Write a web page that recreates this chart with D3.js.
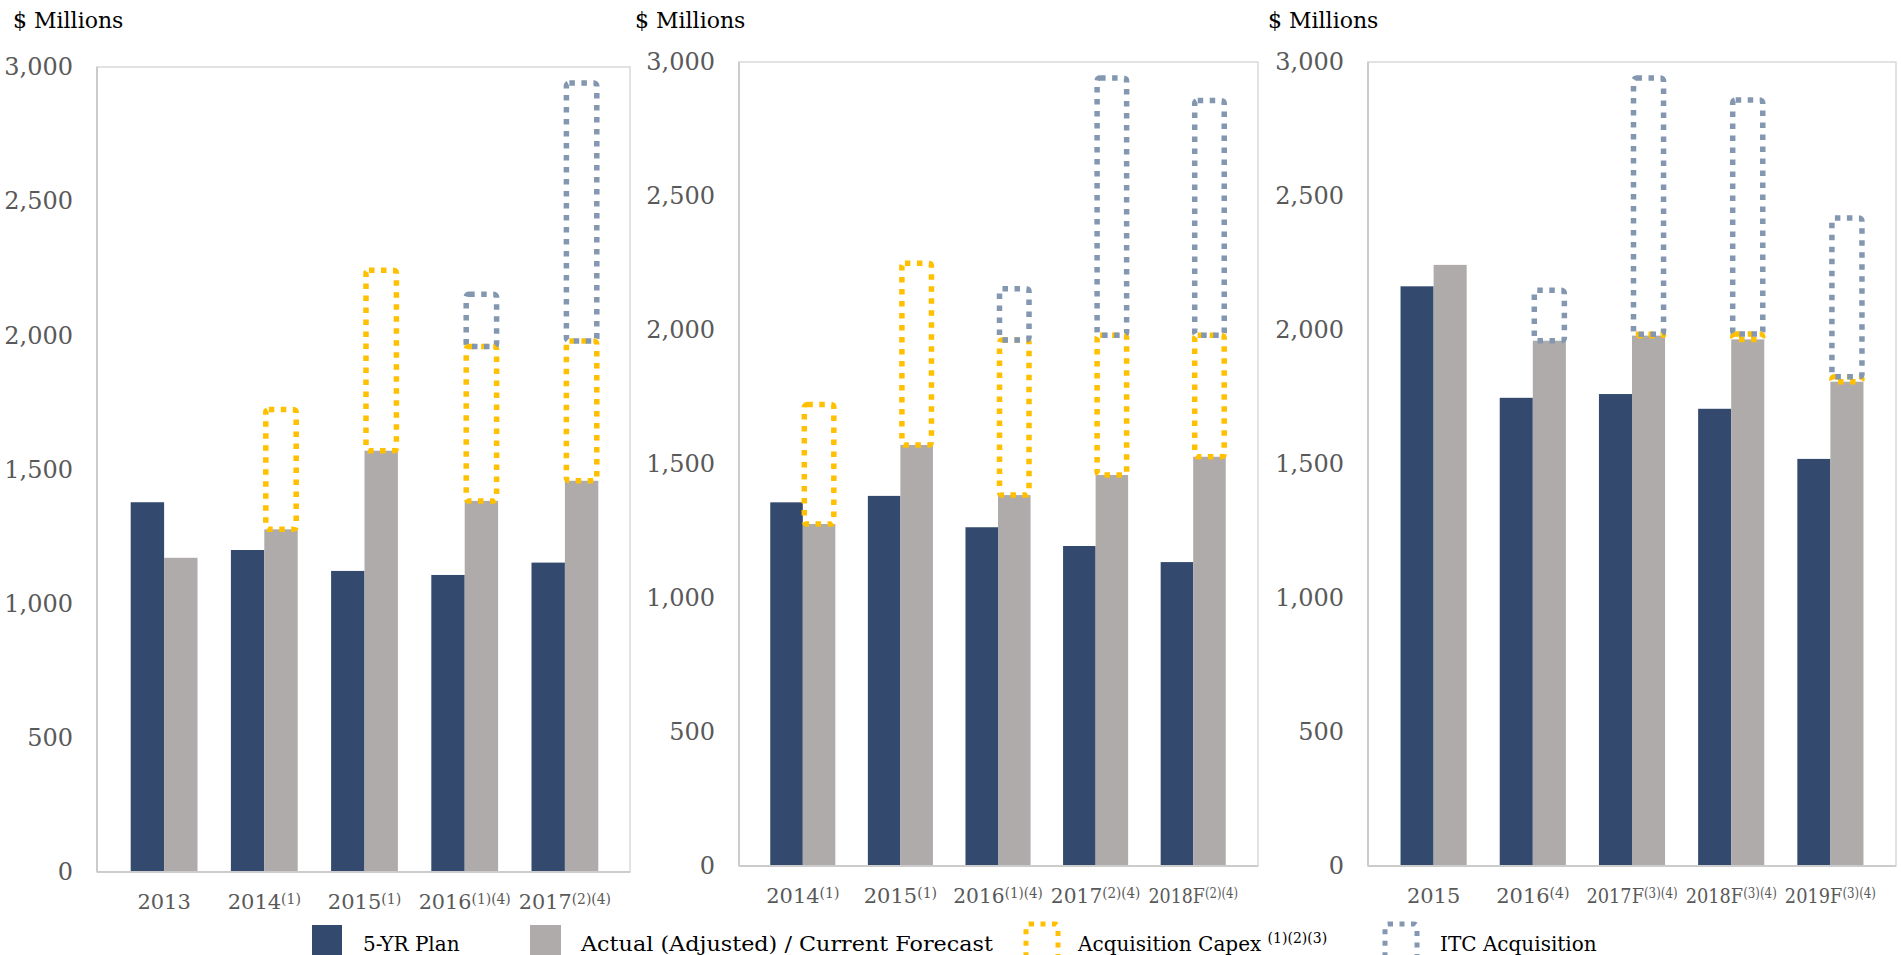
<!DOCTYPE html>
<html>
<head>
<meta charset="utf-8">
<script src="https://cdn.jsdelivr.net/npm/d3@7"></script>
<style>
html, body { margin: 0; padding: 0; background: #fff; overflow: hidden; }
svg { display: block; }
text { font-family: "DejaVu Serif", serif; }
</style>
</head>
<body>
<div id="chart"></div>
<script>
// Capex data, $ millions
const cats1 = ["2013", "2014(1)", "2015(1)", "2016(1)(4)", "2017(2)(4)"];
const plan1 = [1378, 1200, 1122, 1107, 1153];
const actual1 = [1171, 1277, 1570, 1383, 1458];
const acq1 = [0, 447, 673, 575, 521];
const itc1 = [0, 0, 0, 195, 961];

const cats2 = ["2014(1)", "2015(1)", "2016(1)(4)", "2017(2)(4)", "2018F(2)(4)"];
const plan2 = [1357, 1381, 1264, 1194, 1134];
const actual2 = [1276, 1571, 1384, 1459, 1527];
const acq2 = [446, 678, 579, 521, 453];
const itc2 = [0, 0, 191, 960, 876];

const cats3 = ["2015", "2016(4)", "2017F(3)(4)", "2018F(3)(4)", "2019F(3)(4)"];
const plan3 = [2163, 1747, 1761, 1706, 1519];
const actual3 = [2243, 1960, 1979, 1965, 1807];
const acq3 = [0, 0, 5, 20, 19];
const itc3 = [0, 188, 956, 873, 592];

const yTicks = [0, 500, 1000, 1500, 2000, 2500, 3000];
const yMax = 3000;
const unitLabel = "$ Millions";

const legendItems = ["5-YR Plan", "Actual (Adjusted) / Current Forecast", "Acquisition Capex", "ITC Acquisition"];
const legendNote = "(1)(2)(3)";

// colours
const navy = "#334a6e";
const grey = "#aeabaa";
const yellow = "#ffc000";
const itcBlue = "#8497b0";

const W = 1901, H = 955;

const svg = d3.select("#chart")
    .append("svg")
    .attr("width", W)
    .attr("height", H);

// panel layout (plot box + band range)
const panels = [
    { cats: cats1, plan: plan1, actual: actual1, acq: acq1, itc: itc1,
      left: 97, right: 630, top: 67, bottom: 872, band: [114, 615], titleX: 13 },
    { cats: cats2, plan: plan2, actual: actual2, acq: acq2, itc: itc2,
      left: 739, right: 1258, top: 62, bottom: 866, band: [754, 1242], titleX: 635 },
    { cats: cats3, plan: plan3, actual: actual3, acq: acq3, itc: itc3,
      left: 1368, right: 1896, top: 62, bottom: 866, band: [1384, 1880], titleX: 1268 }
];

function drawPanel(p) {
    const g = svg.append("g");

    const rows = p.cats.map((c, i) => ({
        cat: c, plan: p.plan[i], actual: p.actual[i], acq: p.acq[i], itc: p.itc[i]
    }));

    const x = d3.scaleBand().domain(p.cats).range(p.band)
        .paddingInner(1 / 3).paddingOuter(1 / 6);
    const xs = d3.scaleBand().domain(["plan", "actual"]).range([0, x.bandwidth()]);
    const y = d3.scaleLinear().domain([0, yMax]).range([p.bottom, p.top]);

    // plot area border
    g.append("rect")
        .attr("x", p.left).attr("y", p.top)
        .attr("width", p.right - p.left).attr("height", p.bottom - p.top)
        .attr("fill", "none")
        .attr("stroke", "#d9d9d9")
        .attr("stroke-width", 1.5);

    // unit title
    g.append("text")
        .attr("x", p.titleX).attr("y", 28)
        .attr("font-size", 22)
        .attr("fill", "#000")
        .text(unitLabel);

    // y axis labels
    const ya = g.append("g")
        .attr("transform", `translate(${p.left},0)`)
        .call(d3.axisLeft(y).tickValues(yTicks).tickSize(0).tickPadding(24).tickFormat(d3.format(",")));
    ya.select(".domain").remove();
    ya.selectAll("text")
        .attr("font-family", "DejaVu Serif")
        .attr("font-size", 24)
        .attr("fill", "#595959");

    // bars
    g.selectAll(".plan").data(rows).enter().append("rect")
        .attr("class", "plan")
        .attr("x", d => x(d.cat) + xs("plan"))
        .attr("width", xs.bandwidth())
        .attr("y", d => y(d.plan))
        .attr("height", d => y(0) - y(d.plan))
        .attr("fill", navy);

    g.selectAll(".actual").data(rows).enter().append("rect")
        .attr("class", "actual")
        .attr("x", d => x(d.cat) + xs("actual"))
        .attr("width", xs.bandwidth())
        .attr("y", d => y(d.actual))
        .attr("height", d => y(0) - y(d.actual))
        .attr("fill", grey);

    // dotted boxes stacked on the actual bar
    g.selectAll(".acq").data(rows.filter(d => d.acq > 0)).enter().append("rect")
        .attr("class", "acq")
        .attr("x", d => x(d.cat) + xs("actual") + 1.5)
        .attr("width", xs.bandwidth() - 3)
        .attr("y", d => y(d.actual + d.acq))
        .attr("height", d => y(d.actual) - y(d.actual + d.acq))
        .attr("rx", 3)
        .attr("fill", "none")
        .attr("stroke", yellow)
        .attr("stroke-width", 5.5)
        .attr("stroke-dasharray", "5.5,6.5");

    g.selectAll(".itc").data(rows.filter(d => d.itc > 0)).enter().append("rect")
        .attr("class", "itc")
        .attr("x", d => x(d.cat) + xs("actual") + 1.5)
        .attr("width", xs.bandwidth() - 3)
        .attr("y", d => y(d.actual + d.acq + d.itc))
        .attr("height", d => y(d.actual + d.acq) - y(d.actual + d.acq + d.itc))
        .attr("rx", 3)
        .attr("fill", "none")
        .attr("stroke", itcBlue)
        .attr("stroke-width", 5.5)
        .attr("stroke-dasharray", "5.5,6.5");

    // axis lines drawn over the box
    g.append("line")
        .attr("x1", p.left).attr("x2", p.right)
        .attr("y1", p.bottom).attr("y2", p.bottom)
        .attr("stroke", "#cccccc").attr("stroke-width", 2);
    g.append("line")
        .attr("x1", p.left).attr("x2", p.left)
        .attr("y1", p.top).attr("y2", p.bottom)
        .attr("stroke", "#cccccc").attr("stroke-width", 2);

    // x axis labels with superscript notes
    const xa = g.append("g")
        .attr("transform", `translate(0,${p.bottom})`)
        .call(d3.axisBottom(x).tickSize(0));
    xa.select(".domain").remove();
    const maxW = x.step() - 8;
    xa.selectAll("text")
        .attr("font-family", "DejaVu Serif")
        .attr("font-size", 21)
        .attr("fill", "#595959")
        .attr("y", 37)
        .attr("dy", 0)
        .each(function(d) {
            const m = d.match(/^(\d{4}F?)(.*)$/);
            const t = d3.select(this);
            t.text(null);
            t.append("tspan").text(m[1]);
            if (m[2]) {
                t.append("tspan").attr("font-size", 14).attr("dy", -5).text(m[2]);
            }
            // squeeze labels that would run into the next one (condensed look)
            const w = this.getComputedTextLength();
            if (w > maxW) {
                t.attr("transform", `scale(${maxW / w},1)`);
            }
        });
}

panels.forEach(drawPanel);

// Legend
const lg = svg.append("g");
lg.append("rect").attr("x", 312).attr("y", 925).attr("width", 30).attr("height", 30).attr("fill", navy);
lg.append("text").attr("x", 363).attr("y", 951).attr("font-size", 20).attr("fill", "#000").text(legendItems[0]);
lg.append("rect").attr("x", 530).attr("y", 925).attr("width", 31).attr("height", 30).attr("fill", grey);
lg.append("text").attr("x", 581).attr("y", 951).attr("font-size", 20).attr("fill", "#000")
    .attr("textLength", 412).attr("lengthAdjust", "spacingAndGlyphs")
    .text(legendItems[1]);

lg.append("rect").attr("x", 1026).attr("y", 924).attr("width", 32).attr("height", 40).attr("rx", 3)
    .attr("fill", "none").attr("stroke", yellow).attr("stroke-width", 5)
    .attr("stroke-dasharray", "5,6.5");
const acqText = lg.append("text").attr("x", 1078).attr("y", 951).attr("font-size", 20).attr("fill", "#000");
acqText.append("tspan").text(legendItems[2] + " ");
acqText.append("tspan").attr("font-size", 14).attr("dy", -8).text(legendNote);

lg.append("rect").attr("x", 1385).attr("y", 924).attr("width", 32).attr("height", 40).attr("rx", 3)
    .attr("fill", "none").attr("stroke", itcBlue).attr("stroke-width", 5)
    .attr("stroke-dasharray", "5,6.5");
lg.append("text").attr("x", 1440).attr("y", 951).attr("font-size", 20).attr("fill", "#000").text(legendItems[3]);
</script>
</body>
</html>
